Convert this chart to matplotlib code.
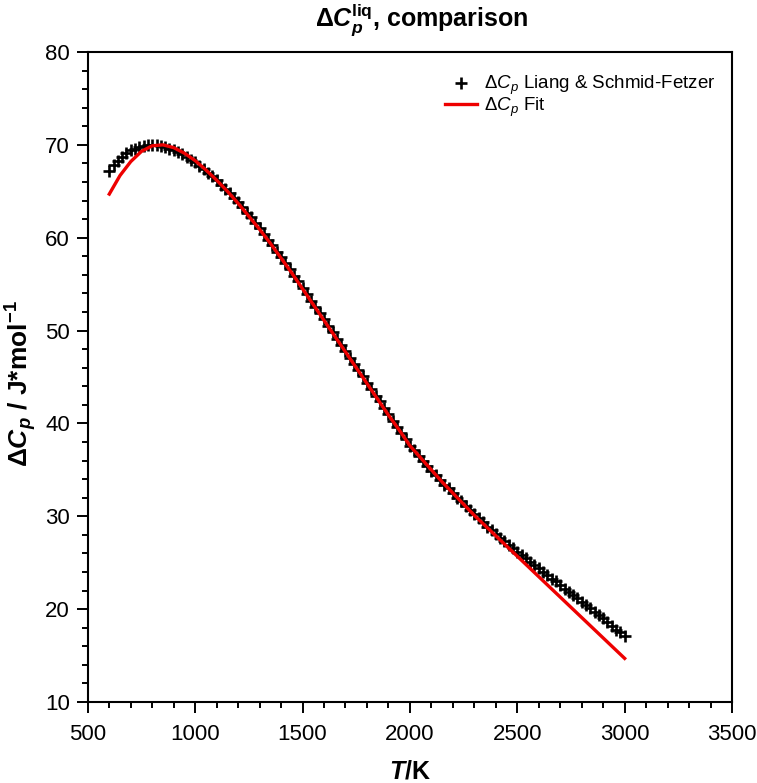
#!/usr/bin/env python3
import numpy as np
import matplotlib
matplotlib.use("Agg")
import matplotlib.pyplot as plt
from matplotlib.ticker import MultipleLocator

plt.rcParams['font.family'] = ['Liberation Sans', 'DejaVu Sans']
plt.rcParams['mathtext.fontset'] = 'custom'
plt.rcParams['mathtext.rm'] = 'Liberation Sans'
plt.rcParams['mathtext.it'] = 'Liberation Sans:italic'
plt.rcParams['mathtext.bf'] = 'Liberation Sans:bold'
plt.rcParams['mathtext.bfit'] = 'Liberation Sans:bold:italic'

# Liang & Schmid-Fetzer values, every 20 K from 600 to 3000 K
T_data = np.arange(600, 3001, 20)
cp_data = [
    67.2, 67.8, 68.3, 68.7, 69.1, 69.4, 69.6, 69.8, 69.9, 70.0,
    70.0, 70.0, 69.9, 69.8, 69.6, 69.4, 69.2, 69.0, 68.7, 68.4,
    68.1, 67.7, 67.4, 67.0, 66.6, 66.2, 65.7, 65.3, 64.8, 64.3,
    63.8, 63.3, 62.7, 62.2, 61.6, 61.0, 60.4, 59.8, 59.2, 58.5,
    57.9, 57.3, 56.6, 55.9, 55.3, 54.6, 53.9, 53.2, 52.5, 51.9,
    51.2, 50.5, 49.8, 49.1, 48.5, 47.8, 47.1, 46.4, 45.8, 45.1,
    44.4, 43.7, 43.0, 42.4, 41.7, 41.0, 40.3, 39.6, 39.0, 38.3,
    37.6, 37.1, 36.5, 36.0, 35.4, 34.9, 34.4, 33.9, 33.4, 33.0,
    32.5, 32.0, 31.6, 31.1, 30.7, 30.2, 29.8, 29.4, 28.9, 28.5,
    28.1, 27.7, 27.3, 26.9, 26.6, 26.2, 25.8, 25.5, 25.1, 24.8,
    24.4, 24.0, 23.7, 23.3, 23.0, 22.6, 22.2, 21.9, 21.5, 21.2,
    20.8, 20.4, 20.1, 19.7, 19.4, 19.0, 18.6, 18.2, 17.8, 17.5,
    17.1,
]

# fitted curve, every 50 K
T_fit = np.arange(600, 3001, 50)
cp_fit = [
    64.7, 66.7, 68.2, 69.3, 69.9, 70.0, 69.7, 69.1, 68.3, 67.3,
    66.2, 65.0, 63.7, 62.3, 60.9, 59.4, 57.8, 56.2, 54.5, 52.8,
    51.1, 49.4, 47.7, 46.0, 44.3, 42.6, 40.9, 39.3, 37.6, 36.3,
    35.0, 33.7, 32.5, 31.3, 30.1, 29.0, 27.9, 26.8, 25.7, 24.6,
    23.5, 22.4, 21.3, 20.2, 19.1, 18.0, 16.9, 15.8, 14.7,
]

fig = plt.figure(figsize=(7.57, 7.83), dpi=100)
ax = fig.add_axes([0.116, 0.1034, 0.851, 0.8302])

ax.plot(T_data, cp_data, linestyle='none', marker='+', color='black',
        markersize=8.5, markeredgewidth=1.9,
        label=r'Δ$\mathit{C}_\mathit{p}$ Liang & Schmid-Fetzer')
ax.plot(T_fit, cp_fit, color='#ee0000', linewidth=2.4,
        label=r'Δ$\mathit{C}_\mathit{p}$ Fit')

ax.set_xlim(500, 3500)
ax.set_ylim(10, 80)
ax.xaxis.set_major_locator(MultipleLocator(500))
ax.xaxis.set_minor_locator(MultipleLocator(100))
ax.yaxis.set_major_locator(MultipleLocator(10))
ax.yaxis.set_minor_locator(MultipleLocator(2))
ax.tick_params(which='major', direction='out', length=8, width=1.4,
               labelsize=16)
ax.tick_params(axis='x', which='major', pad=8)
ax.tick_params(axis='y', which='major', pad=5)
ax.tick_params(which='minor', direction='out', length=4.5, width=1.4)
for s in ax.spines.values():
    s.set_linewidth(1.5)

ax.set_xlabel(r'$\mathbfit{T}$/K', fontsize=18, fontweight='bold')
ax.xaxis.set_label_coords(0.5, -0.088)
ax.set_ylabel(r'Δ$\mathbfit{C}_\mathbfit{p}$ / J*mol$^\mathbf{-1}$',
              fontsize=19, fontweight='bold')
ax.yaxis.set_label_coords(-0.076, 0.49)

fig.text(0.557, 1 - 20 / 783,
         r'Δ$\mathbfit{C}_\mathbfit{p}^\mathbf{liq}$, comparison',
         fontsize=18, fontweight='bold', ha='center', va='center')

ax.legend(loc='upper left', bbox_to_anchor=(0.555, 0.966), frameon=False,
          fontsize=13.5, handlelength=1.7, handletextpad=0.35,
          labelspacing=-0.1, borderpad=0, borderaxespad=0)

fig.savefig('out.png', dpi=100)
